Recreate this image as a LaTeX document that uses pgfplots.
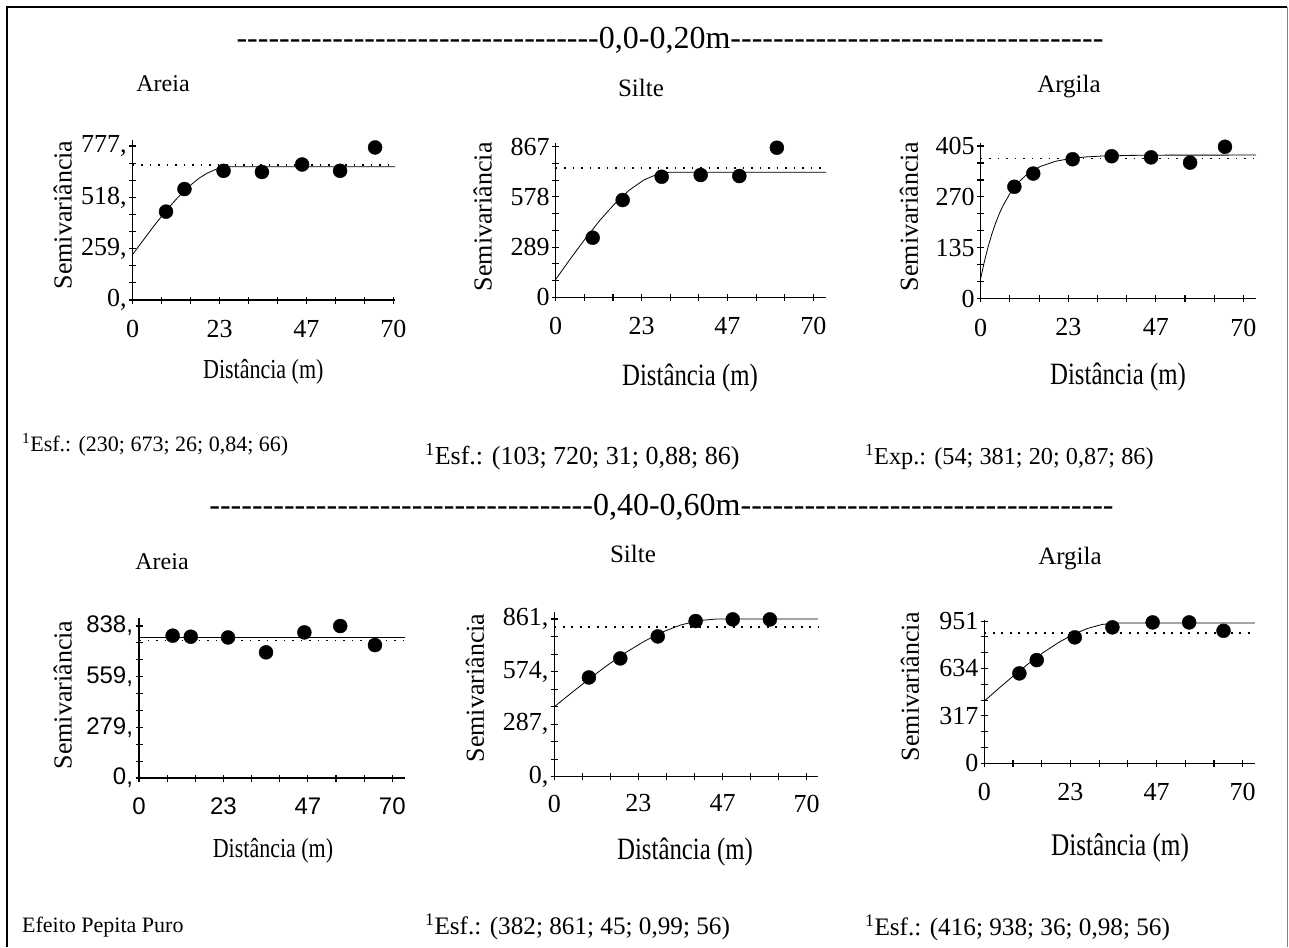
\documentclass[border=0pt]{standalone}
\usepackage{fontspec}
\setmainfont{Liberation Serif}
\newfontfamily\hdr{Liberation Serif}[Ligatures=TeXOff]
\newfontfamily\narrow{Liberation Serif}[FakeStretch=0.8]
\newfontfamily\arial{Liberation Sans}
\usepackage{pgfplots}
\pgfplotsset{compat=1.18}
\newcommand\fs[1]{\fontsize{#1}{#1}\selectfont}
\newcommand\tenhy{----------}

\pgfplotsset{
  vario/.style={
    scale only axis, anchor=south west, clip=false,
    axis lines=left, axis line style={-, line width=1.2pt},
    tick align=center, major tick length=7pt,
    tick style={line width=1.1pt, black},
    xmin=0, ymin=0,
    xtick={0,7.7778,15.5556,23.3333,31.1111,38.8889,46.6667,54.4444,62.2222,70},
    xticklabels={0,,,23,,,47,,,70},
    /pgf/number format/assume math mode=true,
    ticklabel style={font=\fs{26}},
    xticklabel style={yshift=-13pt},
    yticklabel style={xshift=1pt},
  },
  fit/.style={black, line width=0.8pt, no marks},
  sill/.style={black, line width=1.7pt, dash pattern=on 1.7pt off 6.8pt, no marks},
  pts/.style={only marks, mark=*, mark size=7pt, black},
}

\begin{document}
\begin{tikzpicture}[x=1pt, y=1pt]
\path[use as bounding box] (0,0) rectangle (1289,-947);
\draw[line width=2.5pt] (7,-947) -- (7,-7) -- (1287,-7);
\draw[gray, line width=1pt] (1287,-7) -- (1287,-947);

% headers
\node[font=\hdr\fs{32}] at (670,-40) {\tenhy\tenhy\tenhy----0,0-0,20m\tenhy\tenhy\tenhy-----};
\node[font=\hdr\fs{32}] at (661.5,-507) {\tenhy\tenhy\tenhy------0,40-0,60m\tenhy\tenhy\tenhy-----};

% ---------- 0,0-0,20 m : Areia
\begin{axis}[vario, at={(132.7pt,-300pt)}, width=262.5pt, height=160.5pt,
  xmax=70.5, ymax=810,
  ytick={0,86.333,172.667,259,345.333,431.667,518,604.333,690.667,777},
  yticklabels={{0,},,,{259,},,,{518,},,,{777,}}]
\addplot[sill] coordinates {(0,683) (70.5,683)};
\addplot[fit] coordinates {(0,230) (2,281) (4,331) (6,381) (8,428) (10,473) (12,515)
  (14,553) (16,587) (18,617) (20,640) (23,665) (26,673) (70.5,673)};
\addplot[pts] coordinates {(8.95,446) (13.9,560) (24.4,652) (34.7,646) (45.5,684) (55.7,652) (65.1,770)};
\end{axis}

% Silte
\begin{axis}[vario, at={(555.7pt,-297.3pt)}, width=270.1pt, height=154.6pt,
  xmax=73.4, ymax=890,
  ytick={0,96.333,192.667,289,385.333,481.667,578,674.333,770.667,867},
  yticklabels={0,,,289,,,578,,,867}]
\addplot[sill] coordinates {(0,746) (73.4,746)};
\addplot[fit] coordinates {(0,103) (4,222) (8,336) (12,443) (16,538) (20,617) (24,676)
  (28,712) (31,720) (73.4,720)};
\addplot[pts] coordinates {(10.05,343) (18.2,560) (28.8,694) (39.4,704) (49.9,698) (60.1,861)};
\end{axis}

% Argila
\begin{axis}[vario, at={(980.7pt,-298.7pt)}, width=275.4pt, height=155.3pt,
  xmax=73.4, ymax=412,
  ytick={0,45,90,135,180,225,270,315,360,405},
  yticklabels={0,,,135,,,270,,,405}]
\addplot[sill] coordinates {(0,372) (73.4,372)};
\addplot[fit] coordinates {(0,54) (1,99.5) (2,138.8) (3,172.5) (4,201.5) (5,226.5) (6,248)
  (8,282.5) (10,308) (12,327) (14,341) (16,351.3) (20,364.7) (24,372) (28,376.1)
  (32,378.3) (40,380.2) (50,380.9) (73.4,381)};
\addplot[pts] coordinates {(8.97,297) (14.0,332) (24.5,370) (34.9,378) (45.4,375) (55.8,361) (65.1,403)};
\end{axis}

% ---------- 0,40-0,60 m : Areia
\begin{axis}[vario, at={(139pt,-778pt)}, width=266pt, height=159.6pt,
  xmax=73.5, ymax=880,
  ytick={0,93.111,186.222,279.333,372.444,465.556,558.667,651.778,744.889,838},
  yticklabels={{0,},,,{279,},,,{559,},,,{838,}},
  ticklabel style={font=\arial\fs{24}}]
\addplot[sill] coordinates {(0,759) (73.5,759)};
\addplot[fit] coordinates {(0,774) (73.5,774)};
\addplot[pts] coordinates {(9.3,785) (14.3,779) (24.6,775) (35.1,693) (45.7,803) (55.6,838) (65.2,733)};
\end{axis}

% Silte
\begin{axis}[vario, at={(554.3pt,-776.7pt)}, width=263.9pt, height=165pt,
  xmax=73.2, ymax=901,
  ytick={0,95.667,191.333,287,382.667,478.333,574,669.667,765.333,861},
  yticklabels={{0,},,,{287,},,,{574,},,,{861,}},
  xticklabel style={yshift=2pt}]
\addplot[sill] coordinates {(0,819) (73.2,819)};
\addplot[fit] coordinates {(0,382) (5,461.5) (10,539) (15,612.6) (20,680.3) (25,740)
  (30,790) (35,828) (40,852.5) (45,861) (73.2,861)};
\addplot[pts] coordinates {(9.6,542) (18.3,646) (28.7,766) (39.2,850) (49.5,859) (59.8,859)};
\end{axis}

% Argila
\begin{axis}[vario, at={(984.3pt,-763.3pt)}, width=270.6pt, height=143pt,
  xmax=73.3, ymax=956,
  ytick={0,105.667,211.333,317,422.667,528.333,634,739.667,845.333,951},
  yticklabels={0,,,317,,,634,,,951}]
\addplot[sill] coordinates {(0,869) (73.3,869)};
\addplot[fit] coordinates {(0,416) (4,502.7) (8,587) (12,667) (16,741) (20,806) (24,860.7)
  (28,902) (32,928.7) (36,938) (73.3,938)};
\addplot[pts] coordinates {(9.5,601) (14.2,690) (24.5,842) (34.7,909) (45.6,942) (55.5,942) (64.8,886)};
\end{axis}

% titles
\node[font=\fs{24}] at (163,-84) {Areia};
\node[font=\fs{25}] at (641,-88) {Silte};
\node[font=\fs{25}] at (1069,-87) {Argila};
\node[font=\fs{24}] at (162,-562) {Areia};
\node[font=\fs{25}] at (633,-554) {Silte};
\node[font=\fs{25}] at (1070,-559) {Argila};

% y labels
\foreach \x/\y in {62.7/215, 482.7/216.7, 909/216.7, 62.7/695, 475/688, 910/686.7}
  \node[font=\fs{26}, rotate=90] at (\x,-\y) {Semivariância};

% x labels
\node[font=\narrow\fs{27.5}] at (263.3,-371.7) {Distância (m)};
\node[font=\narrow\fs{31}] at (690,-378) {Distância (m)};
\node[font=\narrow\fs{31}] at (1118,-376.7) {Distância (m)};
\node[font=\narrow\fs{27.5}] at (273,-851) {Distância (m)};
\node[font=\narrow\fs{31}] at (685,-851.7) {Distância (m)};
\node[font=\narrow\fs{31.5}] at (1120,-848) {Distância (m)};

% model parameters
\node[font=\fs{22}, anchor=west, inner sep=0pt] at (22,-445) {\textsuperscript{1}Esf.: (230; 673; 26; 0,84; 66)};
\node[font=\fs{26}, anchor=west, inner sep=0pt] at (425,-457) {\textsuperscript{1}Esf.: (103; 720; 31; 0,88; 86)};
\node[font=\fs{24.3}, anchor=west, inner sep=0pt] at (865,-457) {\textsuperscript{1}Exp.: (54; 381; 20; 0,87; 86)};
\node[font=\fs{22}, anchor=west, inner sep=0pt] at (22,-927) {Efeito Pepita Puro};
\node[font=\fs{25.2}, anchor=west, inner sep=0pt] at (425,-927) {\textsuperscript{1}Esf.: (382; 861; 45; 0,99; 56)};
\node[font=\fs{25.2}, anchor=west, inner sep=0pt] at (865,-928) {\textsuperscript{1}Esf.: (416; 938; 36; 0,98; 56)};
\end{tikzpicture}
\end{document}
